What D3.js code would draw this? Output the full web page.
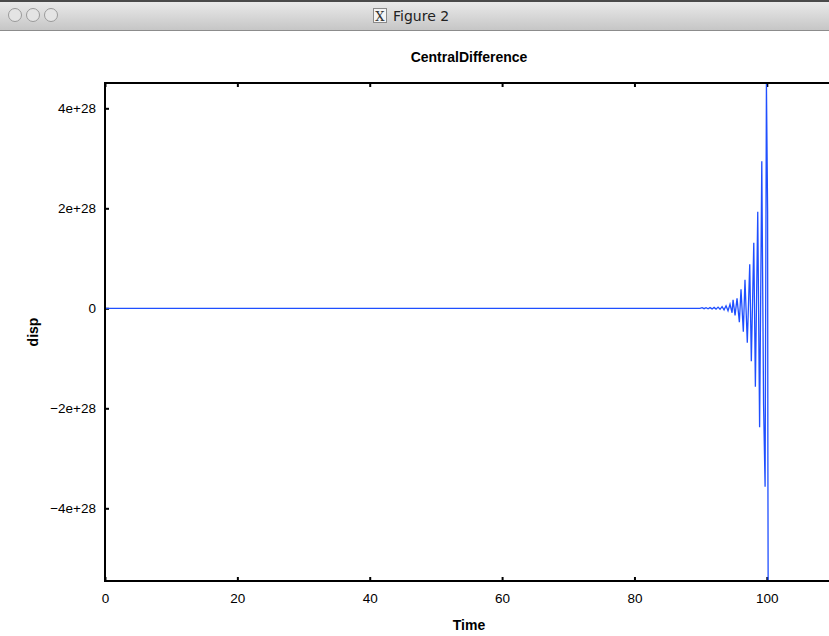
<!DOCTYPE html>
<html>
<head>
<meta charset="utf-8">
<script src="https://cdn.jsdelivr.net/npm/d3@7"></script>
<style>
  html, body { margin: 0; padding: 0; background: #fff; overflow: hidden; }
  svg { display: block; }
</style>
</head>
<body>
<div id="chart"></div>
<script>
/* CONSTANTS AND GLOBALS */
const width = 829;
const height = 636;
const margin = { top: 83, right: -4, bottom: 55, left: 105 };

/* DATA (disp in units of 1e28) */
const timeVals = [0, 89.9, 90.22, 90.52, 90.82, 91.12, 91.42, 91.73, 92.03, 92.33, 92.63,
  92.93, 93.24, 93.54, 93.84, 94.14, 94.44, 94.75, 94.9, 95.2, 95.5, 95.85, 96.1, 96.45,
  96.7, 97.05, 97.42, 97.66, 98.03, 98.27, 98.63, 98.91, 99.24, 99.51, 99.74, 99.94,
  100.12, 100.16, 100.2];
const dispE28 = [0, 0, 0.012, -0.008, 0.012, -0.01, 0.014, -0.012, 0.018, -0.016, 0.024,
  -0.02, 0.035, -0.03, 0.05, -0.05, 0.08, -0.09, 0.17, -0.14, 0.2, -0.28, 0.38, -0.47,
  0.57, -0.69, 0.88, -1.06, 1.31, -1.57, 1.93, -2.38, 2.94, -1.94, -3.57, 4.506,
  1.93, -2.94, -5.454];
const xTicks = [0, 20, 40, 60, 80, 100];
const yTicks = [-4e28, -2e28, 0, 2e28, 4e28];
const yTickLabels = ["\u22124e+28", "\u22122e+28", "0", "2e+28", "4e+28"];
const xDomain = [0, 110];

const data = timeVals.map((t, i) => ({ t: t, v: dispE28[i] * 1e28 }));

/* HTML ELEMENTS */
const svg = d3.select("#chart")
  .append("svg")
  .attr("width", width)
  .attr("height", height);

// window title bar
const defs = svg.append("defs");
const grad = defs.append("linearGradient")
  .attr("id", "bar").attr("x1", 0).attr("y1", 0).attr("x2", 0).attr("y2", 1);
grad.append("stop").attr("offset", "0%").attr("stop-color", "#ececec");
grad.append("stop").attr("offset", "100%").attr("stop-color", "#c6c6c6");

svg.append("rect").attr("x", 0).attr("y", 0).attr("width", width).attr("height", 30)
  .attr("fill", "url(#bar)");
svg.append("rect").attr("x", 0).attr("y", 0).attr("width", width).attr("height", 2)
  .attr("fill", "#4a4a4a");
svg.append("line").attr("x1", 0).attr("x2", width).attr("y1", 30.5).attr("y2", 30.5)
  .attr("stroke", "#8c8c8c");

svg.selectAll("circle.btn")
  .data([15, 33, 51])
  .join("circle")
  .attr("class", "btn")
  .attr("cx", d => d).attr("cy", 15).attr("r", 6.5)
  .attr("fill", "#e4e4e4").attr("stroke", "#9a9a9a");

svg.append("rect").attr("x", 373.5).attr("y", 8.5).attr("width", 13).attr("height", 14)
  .attr("fill", "#f4f4f4").attr("stroke", "#8a8a8a");
svg.append("text").attr("x", 380).attr("y", 20.5).attr("text-anchor", "middle")
  .attr("font-family", "DejaVu Serif").attr("font-size", 13).attr("fill", "#333")
  .text("X");
svg.append("text").attr("x", 393).attr("y", 21)
  .attr("font-family", "DejaVu Sans").attr("font-size", 14).attr("fill", "#222")
  .text("Figure 2");

/* SCALES */
const xScale = d3.scaleLinear()
  .domain(xDomain)
  .range([margin.left, width - margin.right]);

const yScale = d3.scaleLinear()
  .domain(d3.extent(data, d => d.v))
  .range([height - margin.bottom, margin.top]);

const tickFont = g => g
  .attr("font-family", "Liberation Sans, Arial, sans-serif")
  .attr("font-size", 13.5)
  .call(g => g.select(".domain").remove())
  .call(g => g.selectAll(".tick line").attr("stroke", "#000").attr("stroke-width", 2));

// axes with inward ticks
svg.append("g")
  .attr("transform", `translate(0,${height - margin.bottom})`)
  .call(d3.axisBottom(xScale).tickValues(xTicks).tickSize(-4).tickPadding(12))
  .call(tickFont);

svg.append("g")
  .attr("transform", `translate(${margin.left},0)`)
  .call(d3.axisLeft(yScale).tickValues(yTicks).tickSize(-4).tickPadding(9)
    .tickFormat((d, i) => yTickLabels[i]))
  .call(tickFont);

svg.append("g")
  .attr("transform", `translate(0,${margin.top})`)
  .call(d3.axisTop(xScale).tickValues(xTicks).tickSize(-4).tickFormat(""))
  .call(tickFont);

svg.append("g")
  .attr("transform", `translate(${width - margin.right},0)`)
  .call(d3.axisRight(yScale).tickValues(yTicks).tickSize(-4).tickFormat(""))
  .call(tickFont);

// the line
const line = d3.line()
  .x(d => xScale(d.t))
  .y(d => yScale(d.v));

svg.append("path")
  .datum(data)
  .attr("fill", "none")
  .attr("stroke", "#1f4fff")
  .attr("stroke-width", 1.3)
  .attr("d", line);

// frame
svg.append("rect")
  .attr("x", margin.left)
  .attr("y", margin.top)
  .attr("width", width - margin.right - margin.left)
  .attr("height", height - margin.bottom - margin.top)
  .attr("fill", "none")
  .attr("stroke", "#000")
  .attr("stroke-width", 2);

// titles
svg.append("text")
  .attr("x", (margin.left + width - margin.right) / 2)
  .attr("y", 62)
  .attr("text-anchor", "middle")
  .attr("font-family", "Liberation Sans, Arial, sans-serif")
  .attr("font-weight", "bold")
  .attr("font-size", 14)
  .text("CentralDifference");

svg.append("text")
  .attr("x", (margin.left + width - margin.right) / 2)
  .attr("y", 630)
  .attr("text-anchor", "middle")
  .attr("font-family", "Liberation Sans, Arial, sans-serif")
  .attr("font-weight", "bold")
  .attr("font-size", 14)
  .text("Time");

svg.append("text")
  .attr("transform", `translate(38,${(margin.top + height - margin.bottom) / 2}) rotate(-90)`)
  .attr("text-anchor", "middle")
  .attr("font-family", "Liberation Sans, Arial, sans-serif")
  .attr("font-weight", "bold")
  .attr("font-size", 14)
  .text("disp");
</script>
</body>
</html>
